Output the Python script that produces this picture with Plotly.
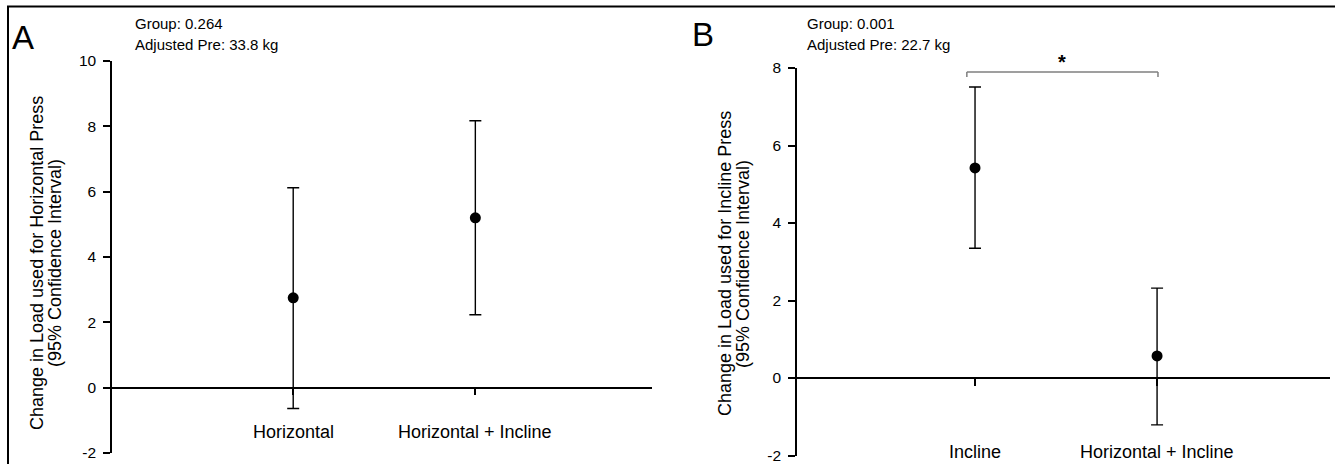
import plotly.graph_objects as go

# ---- data ----
cats_A = ["Horizontal", "Horizontal + Incline"]
mean_A = [2.75, 5.2]
lo_A = [-0.64, 2.23]
hi_A = [6.12, 8.17]

cats_B = ["Incline", "Horizontal + Incline"]
mean_B = [5.42, 0.57]
lo_B = [3.35, -1.21]
hi_B = [7.51, 2.32]

yticks_A = [-2, 0, 2, 4, 6, 8, 10]
yticks_B = [-2, 0, 2, 4, 6, 8]

W, H = 1335, 464
FONT = "Arial, Liberation Sans, sans-serif"


def px_x(p):
    return p / W


def px_y(p):
    return 1 - p / H


fig = go.Figure()


def add_panel(cats, mean, lo, hi, xa, ya):
    xs = list(range(len(cats)))
    fig.add_trace(go.Scatter(
        x=xs, y=mean, mode="markers", xaxis=xa, yaxis=ya,
        marker=dict(color="black", size=11),
        error_y=dict(type="data", symmetric=False,
                     array=[h - m for h, m in zip(hi, mean)],
                     arrayminus=[m - l for m, l in zip(mean, lo)],
                     color="black", thickness=1.4, width=6),
        showlegend=False, hoverinfo="skip"))


add_panel(cats_A, mean_A, lo_A, hi_A, "x", "y")
add_panel(cats_B, mean_B, lo_B, hi_B, "x2", "y2")

yrA = [-2, 10]
yrB = [-2, 8]
ydomA = [px_y(453), px_y(61)]
ydomB = [px_y(455.5), px_y(68)]


def zero_pos(yr, dom):
    return dom[0] + (0 - yr[0]) / (yr[1] - yr[0]) * (dom[1] - dom[0])


axis_font = dict(family=FONT, size=15.5, color="black")
common = dict(showline=True, linecolor="black", linewidth=1.5,
              ticks="outside", ticklen=7, tickwidth=1.5, tickcolor="black",
              showgrid=False, zeroline=False, automargin=False)

fig.update_layout(
    width=W, height=H, margin=dict(l=0, r=0, t=0, b=0, pad=0, autoexpand=False),
    paper_bgcolor="white", plot_bgcolor="white",
    font=dict(family=FONT, color="black"),
    xaxis=dict(domain=[px_x(112), px_x(652)], range=[-0.995, 1.97],
               anchor="free", position=zero_pos(yrA, ydomA),
               tickvals=[0, 1], showticklabels=False, **common),
    yaxis=dict(domain=ydomA, range=yrA, anchor="x",
               tickvals=yticks_A, ticktext=[str(v) for v in yticks_A],
               tickfont=axis_font, ticklabelstandoff=4, **common),
    xaxis2=dict(domain=[px_x(797), px_x(1330)], range=[-0.978, 1.95],
                anchor="free", position=zero_pos(yrB, ydomB),
                tickvals=[0, 1], showticklabels=False, **common),
    yaxis2=dict(domain=ydomB, range=yrB, anchor="x2",
                tickvals=yticks_B, ticktext=[str(v) for v in yticks_B],
                tickfont=axis_font, ticklabelstandoff=4, **common),
)

ann = []
# category labels
for i, c in enumerate(cats_A):
    ann.append(dict(x=i, y=px_y(432), xref="x", yref="paper", text=c,
                    xanchor="center", yanchor="middle",
                    showarrow=False, font=dict(family=FONT, size=18, color="black")))
for i, c in enumerate(cats_B):
    ann.append(dict(x=i, y=px_y(452), xref="x2", yref="paper", text=c,
                    xanchor="center", yanchor="middle",
                    showarrow=False, font=dict(family=FONT, size=18, color="black")))

# y-axis titles (two lines each)
for xc, txt, yc in [(37, "Change in Load used for Horizontal Press", 263),
                    (55, "(95% Confidence Interval)", 263),
                    (725, "Change in Load used for Incline Press", 264),
                    (743, "(95% Confidence Interval)", 264)]:
    ann.append(dict(x=px_x(xc), y=px_y(yc), xref="paper", yref="paper", text=txt,
                    textangle=-90, showarrow=False, xanchor="center", yanchor="middle",
                    font=dict(family=FONT, size=18, color="black")))

# panel letters
ann.append(dict(x=px_x(10), y=px_y(38), xref="paper", yref="paper", text="A",
                xanchor="left", yanchor="middle", showarrow=False,
                font=dict(family=FONT, size=33, color="black")))
ann.append(dict(x=px_x(690), y=px_y(34), xref="paper", yref="paper", text="B",
                xanchor="left", yanchor="middle", showarrow=False,
                font=dict(family=FONT, size=33, color="black")))

# stats text
for x0, g, a in [(133, "Group: 0.264", "Adjusted Pre: 33.8 kg"),
                 (805, "Group: 0.001", "Adjusted Pre: 22.7 kg")]:
    ann.append(dict(x=px_x(x0), y=px_y(24), xref="paper", yref="paper", text=g,
                    xanchor="left", yanchor="middle", showarrow=False,
                    font=dict(family=FONT, size=15, color="black")))
    ann.append(dict(x=px_x(x0), y=px_y(44), xref="paper", yref="paper", text=a,
                    xanchor="left", yanchor="middle", showarrow=False,
                    font=dict(family=FONT, size=15, color="black")))

# significance bracket
br_x0, br_x1 = 0 - 0.045, 1.005
br_top, br_bot = 7.9, 7.77

# significance star
ann.append(dict(x=(br_x0 + br_x1) / 2, y=px_y(62), xref="x2", yref="paper", text="<b>*</b>",
                xanchor="center", yanchor="middle",
                showarrow=False, font=dict(family=FONT, size=20, color="black")))
fig.update_layout(annotations=ann)

fig.add_shape(type="line", xref="x2", yref="y2", x0=br_x0, x1=br_x1, y0=br_top, y1=br_top,
              line=dict(color="#7f7f7f", width=1.5))
for xb in (br_x0, br_x1):
    fig.add_shape(type="line", xref="x2", yref="y2", x0=xb, x1=xb, y0=br_top, y1=br_bot,
                  line=dict(color="#7f7f7f", width=1.5))

# outer frame (top and left)
fig.add_shape(type="line", xref="paper", yref="paper", x0=px_x(7), x1=1, y0=px_y(6.5), y1=px_y(6.5),
              line=dict(color="black", width=2))
fig.add_shape(type="line", xref="paper", yref="paper", x0=px_x(8), x1=px_x(8), y0=0, y1=px_y(6.5),
              line=dict(color="black", width=2))

fig.write_html(
    "out.html",
    config={"displayModeBar": False, "responsive": False},
    post_script=("document.body.style.margin='0px';"
                 "document.documentElement.style.overflow='hidden';"
                 "var d=document.getElementById('{plot_id}');"
                 "d.style.position='fixed';d.style.top='0px';d.style.left='0px';"))
